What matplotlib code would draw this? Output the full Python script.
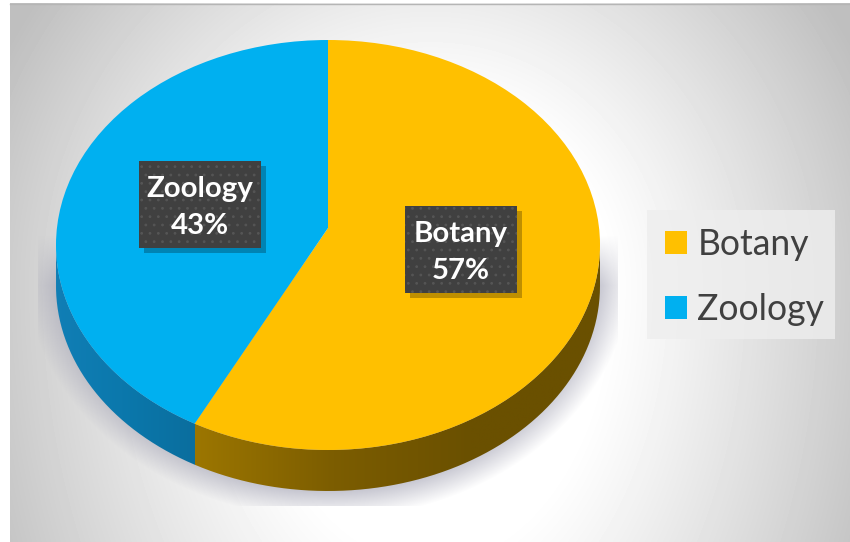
import numpy as np
import matplotlib
matplotlib.use("Agg")
import matplotlib.pyplot as plt
from matplotlib.patches import Ellipse, Rectangle, Patch, PathPatch
from matplotlib.path import Path
from matplotlib.colors import LinearSegmentedColormap
from matplotlib.transforms import Affine2D

# the chart's data
subjects = ["Botany", "Zoology"]
shares = [57, 43]
slice_colors = ["#FFC000", "#00B0F0"]

plt.rcParams["font.family"] = ["Lato", "DejaVu Sans"]
plt.rcParams["hatch.linewidth"] = 0.8

fig = plt.figure(figsize=(8.5, 5.42), dpi=100)
ax = fig.add_axes([0, 0, 1, 1])

# grey backdrop, lighter towards the middle
xx, yy = np.meshgrid(np.arange(10, 850), np.arange(3, 542))
dy = yy - 285.0
r = np.sqrt(((xx - 430) / 420.0) ** 2 + (dy / np.where(dy < 0, 430.0, 640.0)) ** 2)
grey = 255 - 50 * np.clip((r - 0.42) / 0.58, 0, 1.25) ** 1.1
ax.imshow(np.clip(grey, 0, 255), cmap="gray", vmin=0, vmax=255, extent=(10, 850, 542, 3),
          aspect="auto", zorder=0)
ax.plot([10, 850], [3.5, 3.5], color="#b5b5b5", lw=1, zorder=1)

# soft shadow under the pie, cut off by a rectangle like the original
sx, sy = np.meshgrid(np.arange(38, 618), np.arange(230, 506))
rs = np.sqrt(((sx - 328) / 304.0) ** 2 + ((sy - 264) / 254.0) ** 2)
shadow = np.zeros(rs.shape + (4,))
shadow[..., :3] = matplotlib.colors.to_rgb("#a6a6b6")
shadow[..., 3] = 0.95 * np.clip((1.0 - rs) / 0.16, 0, 1) * np.clip((sy - 235) / 50.0, 0, 1)
ax.imshow(shadow, extent=(38, 618, 506, 230), aspect="auto", zorder=1)

# pie ellipse in pixels
cx, cy, rx, ry = 328, 245, 272, 205
depth = 41
split_x = 195

# side wall of the pie, a lower half ellipse swept downwards
t = np.linspace(0, np.pi, 200)
top_edge = np.column_stack([cx + rx * np.cos(t), cy + ry * np.sin(t)])
low_edge = np.column_stack([cx + rx * np.cos(t[::-1]), cy + depth + ry * np.sin(t[::-1])])
side_path = Path(np.vstack([top_edge, low_edge, top_edge[:1]]))

blue_side = LinearSegmentedColormap.from_list("b", ["#117FB6", "#0B78AC", "#0A6E9E"])
gold_side = LinearSegmentedColormap.from_list("g", ["#9C7600", "#7C5D00", "#6A5000", "#6A5000"])

side_clip = PathPatch(side_path, transform=ax.transData, fc="none", ec="none")
ax.add_patch(side_clip)
grad = np.linspace(0, 1, 256).reshape(1, -1)
im1 = ax.imshow(grad, cmap=blue_side, extent=(50, split_x, 500, 240), aspect="auto", zorder=2)
im2 = ax.imshow(grad, cmap=gold_side, extent=(split_x, 610, 500, 240), aspect="auto", zorder=2)
im1.set_clip_path(side_clip)
im2.set_clip_path(side_clip)

# top face: pie centred on the apex, cut by the ellipse outline
wedges, _ = ax.pie(shares, colors=slice_colors, startangle=90, counterclock=False, radius=2)
top_clip = Ellipse((cx, cy), 2 * rx, 2 * ry, transform=ax.transData, fc="none", ec="none")
ax.add_patch(top_clip)
to_pixels = Affine2D().scale(297, -205).translate(328, 228) + ax.transData
for w in wedges:
    w.set_transform(to_pixels)
    w.set_clip_on(True)
    w.set_clip_path(top_clip)
    w.set_zorder(3)

# data labels
label_boxes = [(405, 206, 112, 87), (139, 161, 122, 87)]
for name, share, (bx, by, bw, bh) in zip(subjects, shares, label_boxes):
    ax.add_patch(Rectangle((bx + 5, by + 5), bw, bh, fc="black", alpha=0.25, lw=0, zorder=4))
    ax.add_patch(Rectangle((bx, by), bw, bh, fc="#404040", ec="#555555", hatch="..", lw=0, zorder=5))
    ax.text(bx + bw / 2, by + bh / 2 + 3, f"{name}\n{share}%", color="white", fontsize=21.2,
            fontweight="bold", ha="center", va="center", linespacing=1.55, zorder=6)

# legend background is its own box so the text can sit closer to the right edge
ax.add_patch(Rectangle((647, 210), 188, 129, fc="#eeeeee", alpha=0.8, lw=0, zorder=4))

ax.set_xlim(0, 850)
ax.set_ylim(542, 0)
ax.set_aspect("auto")
ax.axis("off")

handles = [Patch(fc=c, ec="none") for c in slice_colors]
leg = fig.legend(handles, subjects, loc="upper left", bbox_to_anchor=(647 / 850, 1 - 210 / 542),
                 bbox_transform=fig.transFigure, borderaxespad=0, fontsize=25.6, labelcolor="#404040",
                 handlelength=0.62, handleheight=0.62, handletextpad=0.3, borderpad=0.5,
                 labelspacing=0.92, frameon=False)

fig.savefig("out.png", dpi=100, facecolor="white")
